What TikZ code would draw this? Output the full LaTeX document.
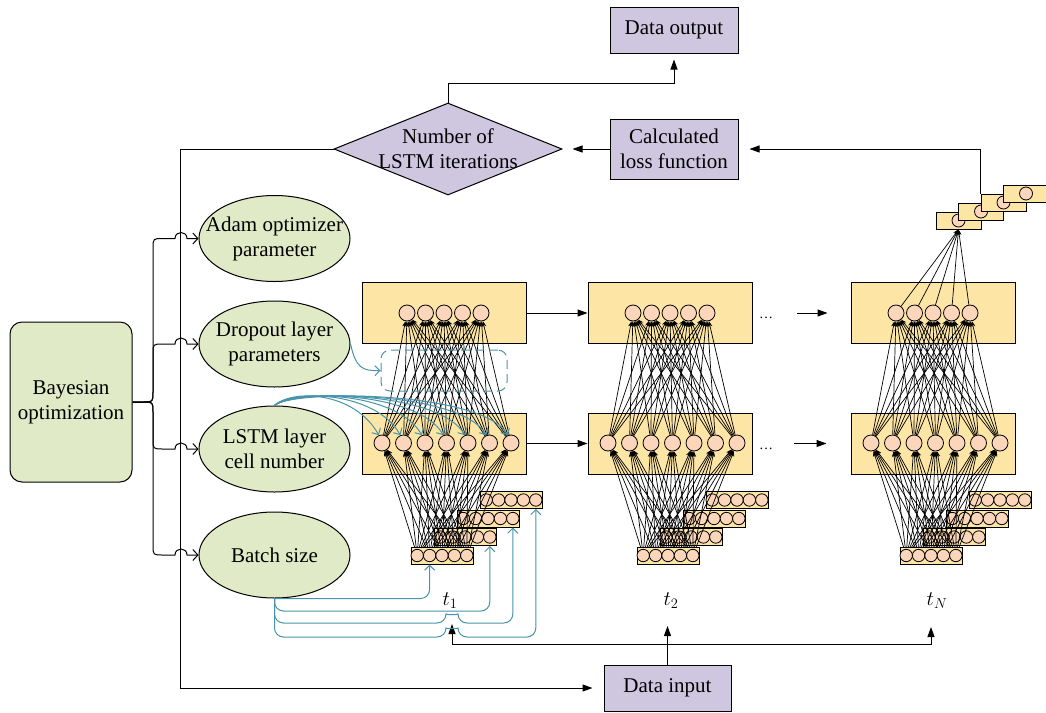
\documentclass[tikz,border=0pt]{standalone}
\usepackage{fontspec}
\setmainfont{Liberation Serif}
\usetikzlibrary{arrows.meta,shapes.geometric}
\definecolor{grn}{RGB}{224,234,198}
\definecolor{purp}{RGB}{207,198,224}
\definecolor{yel}{RGB}{253,229,166}
\definecolor{pch}{RGB}{252,214,186}
\definecolor{tealc}{RGB}{72,148,170}
\pgfdeclarelayer{bg}\pgfdeclarelayer{mid}\pgfsetlayers{bg,mid,main}
\begin{document}
\begin{tikzpicture}[x=1pt,y=-1pt,
  lbl/.style={font=\fontsize{21}{25}\selectfont, align=center, inner sep=0},
  pbox/.style={lbl, draw, fill=purp, line width=1pt},
  gbox/.style={lbl, draw, fill=grn, line width=1pt, rounded corners=12pt, minimum width=122pt, minimum height=160pt},
  ell/.style={draw, ellipse, fill=grn, line width=1pt, minimum width=151pt, minimum height=86pt, inner sep=0},
  dia/.style={draw, diamond, fill=purp, line width=1pt, minimum width=228pt, minimum height=92pt, inner sep=0},
  layer/.style={draw, fill=yel, line width=1pt, minimum width=164pt, minimum height=61pt, inner sep=0},
  cell/.style={draw, circle, fill=pch, minimum size=16pt, inner sep=0, line width=0.8pt},
  icell/.style={draw, circle, fill=pch, minimum size=12.4pt, inner sep=0, line width=0.8pt},
  ibox/.style={draw, fill=yel, line width=1pt, minimum width=62pt, minimum height=17pt, inner sep=0},
  obox/.style={draw, fill=yel, line width=1pt, minimum width=45pt, minimum height=17pt, inner sep=0},
  ocell/.style={draw, circle, fill=pch, minimum size=13pt, inner sep=0, line width=0.8pt},
  arr/.style={-{Triangle[length=10pt,width=7pt]}, line width=1pt},
  net/.style={-{Stealth[length=5.5pt,width=4.5pt]}, line width=0.7pt},
  brc/.style={-{Straight Barb[length=5pt,width=11pt]}, line width=1pt},
  tl/.style={draw=tealc, -{Straight Barb[length=5pt,width=10pt]}, line width=1pt},
  tlab/.style={font=\fontsize{21}{25}\selectfont, inner sep=0},
  dts/.style={font=\fontsize{14}{14}\selectfont, inner sep=0, anchor=base}]
\begin{pgfonlayer}{bg}\fill[white] (0,0) rectangle (1046,712);\end{pgfonlayer}
\useasboundingbox (0,0) rectangle (1046,712);

% flow boxes
\node[pbox, minimum width=128pt, minimum height=46pt] (dout) at (674,30) {Data output};
\node[pbox, minimum width=128pt, minimum height=60pt] (loss) at (674,149) {Calculated\\loss function};
\node[dia] (dec) at (448,149) {};
\node[lbl] (dect) at (448,149) {Number of\\LSTM iterations};
\node[pbox, minimum width=127pt, minimum height=46pt] (din) at (667.5,688) {Data input};
\node[gbox] (bay) at (71,402) {Bayesian\\optimization};
\node[ell] (adam) at (274.5,238.5) {};
\node[lbl] (adamt) at (274.5,238.5) {Adam optimizer\\parameter};
\node[ell] (drop) at (274.5,344) {};
\node[lbl] (dropt) at (274.5,344) {Dropout layer\\parameters};
\node[ell] (lstm) at (274.5,449) {};
\node[lbl] (lstmt) at (274.5,449) {LSTM layer\\cell number};
\node[ell] (batch) at (274.5,555) {};
\node[lbl] (batcht) at (274.5,555) {Batch size};

% network columns
\foreach \c/\dx in {1/0,2/226,3/489}{
  \begin{pgfonlayer}{bg}
    \node[layer] (T\c) at ({444+\dx},313) {};
    \node[layer] (B\c) at ({444+\dx},443.5) {};
    \foreach \m in {3,2,1}{
      \node[ibox] (I\c-\m) at ({442+23*\m+\dx},{555.5-18.5*\m}) {};
      \foreach \j in {1,...,5}
        \node[icell] (I\c-\m-\j) at ({417.2+12.4*(\j-1)+23*\m+\dx},{555.5-18.5*\m}) {};
    }
  \end{pgfonlayer}
  \node[ibox] (I\c-0) at ({442+\dx},555.5) {};
  \foreach \j in {1,...,5}
    \node[icell] (I\c-0-\j) at ({417.2+12.4*(\j-1)+\dx},555.5) {};
  \foreach \j in {1,...,5}
    \node[cell] (T\c-\j) at ({407+18.5*(\j-1)+\dx},313) {};
  \foreach \k in {1,...,7}
    \node[cell] (B\c-\k) at ({382+21.5*(\k-1)+\dx},443) {};
  \begin{pgfonlayer}{mid}
    \foreach \k in {1,...,7}{
      \foreach \j in {1,...,5}{
        \draw[net] (B\c-\k) -- (T\c-\j);
        \draw[net] (I\c-0-\j) -- (B\c-\k);
      }
    }
  \end{pgfonlayer}
}

% arrows between columns
\draw[arr] (T1.east) -- (T2.west);
\draw[arr] (B1.east) -- (B2.west);
\node[dts] (d1) at (766,318) {…};
\node[dts] (d2) at (766,449) {…};
\coordinate (a1) at (797,313);
\coordinate (a2) at (794,443.5);
\draw[arr, shorten >=23pt] (a1) -- (T3.west);
\draw[arr, shorten >=24pt] (a2) -- (B3.west);

% output stack
\foreach \n in {0,...,3}{
  \node[obox] (O\n) at ({958.5+22.5*\n},{220.5-9*\n}) {};
  \node[ocell] (OC\n) at ({958.5+22.5*\n},{220.5-9*\n}) {};
}
\foreach \j in {1,...,5} \draw[net] (T3-\j) -- (O0.south);

% flow connectors
\coordinate (ob) at (674,83);
\draw[arr, shorten >=6pt] (dec.north) |- (ob) -- (dout.south);
\draw[arr, shorten >=10pt] (loss.west) -- (dec.east);
\draw[arr, shorten >=11pt] (O2.north west) |- (loss.east);
\coordinate (lc) at (180,688);
\draw[arr, shorten >=11pt] (dec.west) -| (lc) -- (din.west);

% time labels and data input bus
\node[tlab] (t1) at (450,601) {$t_1$};
\node[tlab] (t2) at (671,601) {$t_2$};
\node[tlab] (tN) at (937,601) {$t_N$};
\coordinate (bus) at (667.5,644);
\coordinate (t1a) at (452,624);
\coordinate (t2a) at (667.5,626);
\coordinate (tNa) at (931,627);
\draw[arr] (din.north) -- (t2a);
\draw[arr] (bus) -| (t1a);
\draw[arr] (bus) -| (tNa);

% brace from Bayesian optimization
\draw[brc] (bay.east) -- (143,402) .. controls (153,402) .. (153,392) -- (153,248.5) .. controls (153,238.5) .. (163,238.5) -- (175,238.5) .. controls (175,230.5) and (187,230.5) .. (187,238.5) -- (adam.west);
\draw[brc] (bay.east) -- (143,402) .. controls (153,402) .. (153,392) -- (153,354) .. controls (153,344) .. (163,344) -- (175,344) .. controls (175,336) and (187,336) .. (187,344) -- (drop.west);
\draw[brc] (bay.east) -- (143,402) .. controls (153,402) .. (153,412) -- (153,439) .. controls (153,449) .. (163,449) -- (175,449) .. controls (175,441) and (187,441) .. (187,449) -- (lstm.west);
\draw[brc] (bay.east) -- (143,402) .. controls (153,402) .. (153,412) -- (153,545) .. controls (153,555) .. (163,555) -- (175,555) .. controls (175,547) and (187,547) .. (187,555) -- (batch.west);

% dropout
\node[draw=tealc, dash pattern=on 9pt off 5pt, rounded corners=9pt, minimum width=126pt, minimum height=41pt, line width=1pt, inner sep=0] (dbox) at (444,370.5) {};
\draw[tl] (drop.east) .. controls (356,368) and (362,371) .. (dbox.west);

% LSTM cell number to cells
\foreach \k in {1,...,7}
  \draw[tl] (lstm.north) .. controls (292,389) and ({382+21.5*(\k-1)-28},391) .. (B1-\k.112);

% batch size to inputs
\coordinate (bb2) at (274.5,611);
\coordinate (bb3) at (274.5,623);
\coordinate (bb4) at (274.5,637);
\draw[tl, rounded corners=9pt] (batch.south) -| (I1-0-2.south |- I1-0.south);
\draw[tl, rounded corners=9pt] (batch.south) -- (bb2) -| (I1-1-5.south |- I1-1.south);
\draw[tl, rounded corners=9pt] (batch.south) -- (bb3) -- (446,623) .. controls (446,615) and (458,615) .. (458,623) -| (I1-2-5.south |- I1-2.south);
\draw[tl, rounded corners=9pt] (batch.south) -- (bb4) -- (446,637) .. controls (446,629) and (458,629) .. (458,637) -| (I1-3-5.south |- I1-3.south);
\end{tikzpicture}
\end{document}
